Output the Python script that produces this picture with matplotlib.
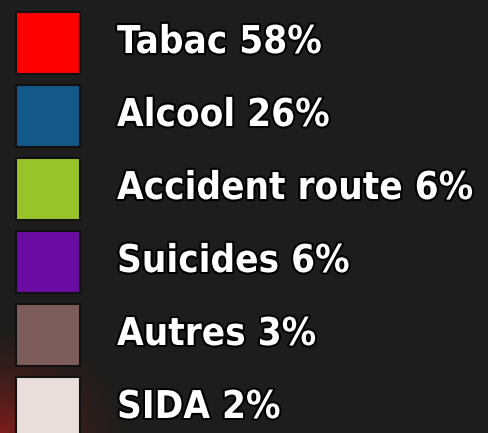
import numpy as np
from matplotlib import pyplot as plt
from matplotlib import font_manager
import matplotlib.patheffects as pe

categories = ["Tabac", "Alcool", "Accident route", "Suicides", "Autres", "SIDA"]
percents = [58, 26, 6, 6, 3, 2]
colors = ["#fe0000", "#14588a", "#98c42a", "#6a0ca2", "#7c5d5b", "#e9dedb"]

fp = font_manager.FontProperties(family="DejaVu Sans", weight="bold",
                                 stretch="condensed", size=27.6)

fig = plt.figure(figsize=(4.89, 4.33), dpi=100)
fig.patch.set_facecolor("#1d1d1d")
ax = fig.add_axes([0, 0, 1, 1])
ax.set_facecolor("#1d1d1d")
ax.set_xlim(0, 489)
ax.set_ylim(433, 0)
ax.axis("off")

# reddish glow in the lower-left corner
yy, xx = np.mgrid[0:433, 0:489]
d = np.sqrt((xx / 130.0) ** 2 + ((433 - yy) / 110.0) ** 2)
alpha = np.clip(1 - d, 0, 1) ** 1.5 * 0.6
glow = np.zeros((433, 489, 4))
glow[..., 0] = 0.75
glow[..., 1] = 0.12
glow[..., 2] = 0.1
glow[..., 3] = alpha
ax.imshow(glow, extent=(0, 489, 433, 0), zorder=0)

row_h = 73
for i, (cat, p, c) in enumerate(zip(categories, percents, colors)):
    top = 12 + i * row_h
    ax.bar(48, 62, width=64, bottom=top, color=c, edgecolor="#111111",
           linewidth=1.5, zorder=2)
    t = ax.text(117, top + 31, f"{cat} {p}%", color="white",
                fontproperties=fp, va="center", ha="left", zorder=3)
    t.set_path_effects([pe.withStroke(linewidth=3, foreground="#000000")])

fig.savefig("out.png", dpi=100, facecolor=fig.get_facecolor())
